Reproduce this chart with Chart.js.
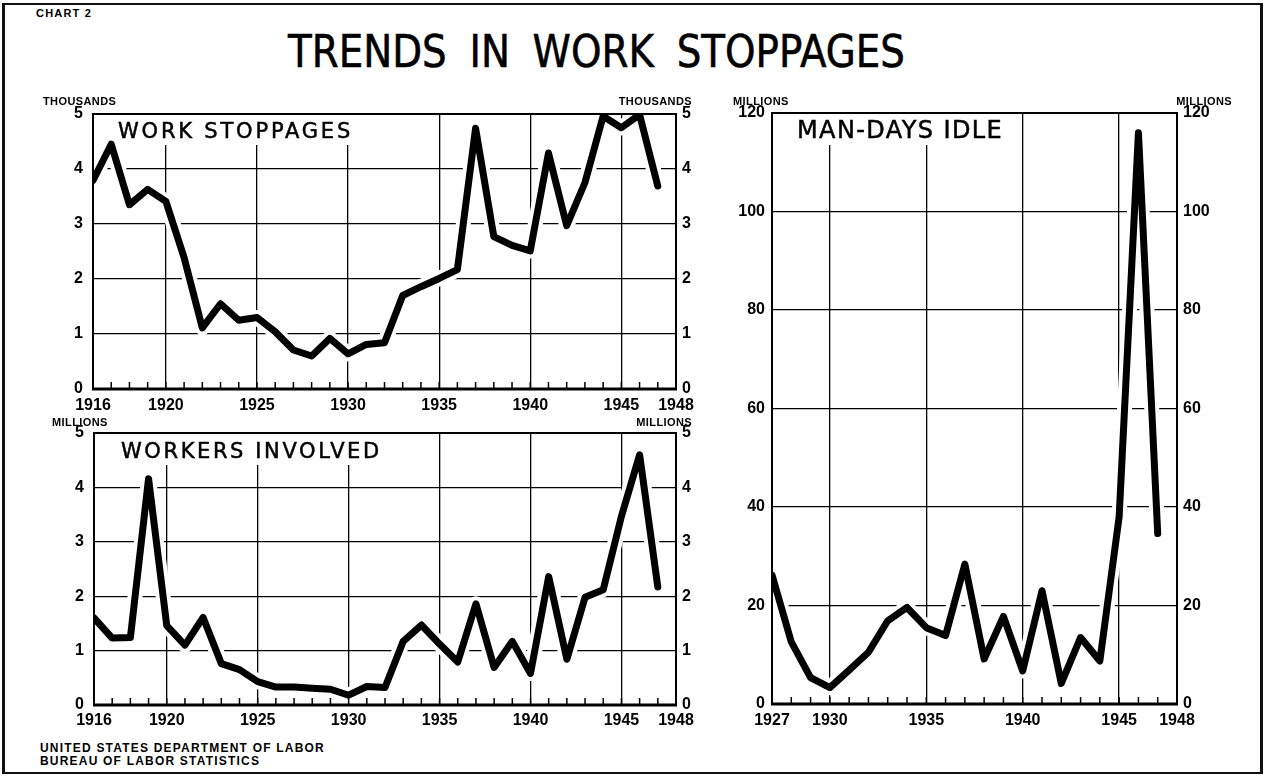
<!DOCTYPE html>
<html>
<head>
<meta charset="utf-8">
<script src="https://cdn.jsdelivr.net/npm/chart.js@4.4.0/dist/chart.umd.min.js"></script>
<style>
  html, body { margin: 0; padding: 0; background: #fff; }
  #page { position: relative; width: 1266px; height: 776px; overflow: hidden; font-family: "Liberation Sans", Arial, sans-serif; color: #000; }
  #frame { position: absolute; left: 2px; top: 3px; width: 1255px; height: 767px; border: 2px solid #111; border-left-width: 3px; border-right-width: 3px; }
  canvas { position: absolute; }
  #c-stop { left: 0; top: 90px; }
  #c-work { left: 0; top: 410px; }
  #c-idle { left: 720px; top: 90px; }
  #chart-no { position: absolute; left: 36px; top: 7px; font-size: 11px; font-weight: bold; letter-spacing: 1.2px; }
  #title { position: absolute; left: 288px; top: 29px; font-size: 45px; line-height: 45px; white-space: pre; word-spacing: 12px; transform-origin: 0 0; font-family: "DejaVu Sans", sans-serif; -webkit-text-stroke: 0.6px #000; }
  #source { position: absolute; left: 40px; top: 742px; font-size: 12px; line-height: 13px; font-weight: bold; letter-spacing: 1.2px; }
</style>
</head>
<body>
<div id="page">
  <div id="frame"></div>
  <div id="chart-no">CHART 2</div>
  <div id="title">TRENDS IN WORK STOPPAGES</div>
  <canvas id="c-stop" width="720" height="325"></canvas>
  <canvas id="c-work" width="720" height="320"></canvas>
  <canvas id="c-idle" width="546" height="640"></canvas>
  <div id="source">UNITED STATES DEPARTMENT OF LABOR<br>BUREAU OF LABOR STATISTICS</div>
</div>
<script>
'use strict';

/* ── Data ── */
const years = [1916, 1917, 1918, 1919, 1920, 1921, 1922, 1923, 1924, 1925, 1926,
               1927, 1928, 1929, 1930, 1931, 1932, 1933, 1934, 1935, 1936, 1937,
               1938, 1939, 1940, 1941, 1942, 1943, 1944, 1945, 1946, 1947];

// thousands
const stoppages = [3.79, 4.45, 3.35, 3.63, 3.41, 2.39, 1.11, 1.55, 1.25, 1.30, 1.04,
                   0.71, 0.60, 0.92, 0.64, 0.81, 0.84, 1.70, 1.86, 2.01, 2.17, 4.74,
                   2.77, 2.61, 2.51, 4.29, 2.97, 3.75, 4.96, 4.75, 4.99, 3.69];

// millions
const workers = [1.60, 1.23, 1.24, 4.16, 1.46, 1.10, 1.61, 0.76, 0.65, 0.43, 0.33,
                 0.33, 0.31, 0.29, 0.18, 0.34, 0.32, 1.17, 1.47, 1.12, 0.79, 1.86,
                 0.69, 1.17, 0.58, 2.36, 0.84, 1.98, 2.12, 3.47, 4.60, 2.17];

const idleYears = [1927, 1928, 1929, 1930, 1931, 1932, 1933, 1934, 1935, 1936, 1937,
                   1938, 1939, 1940, 1941, 1942, 1943, 1944, 1945, 1946, 1947];

// millions
const manDaysIdle = [26.2, 12.6, 5.35, 3.32, 6.89, 10.5, 16.9, 19.6, 15.5, 13.9, 28.4,
                     9.15, 17.8, 6.70, 23.0, 4.18, 13.5, 8.72, 38.0, 116.0, 34.6];

const longTicks  = [1916, 1920, 1925, 1930, 1935, 1940, 1945, 1948];
const shortTicks = [1927, 1930, 1935, 1940, 1945, 1948];

/* ── Title squeeze ── */
(function fitTitle() {
  const t = document.getElementById('title');
  const w = t.getBoundingClientRect().width;
  t.style.transform = 'scaleX(' + (617 / w) + ')';
})();

const TICK_FONT = { family: '"Liberation Sans", Arial, sans-serif', size: 16, weight: 'bold' };
const LABEL_FAMILY = '"DejaVu Sans", "Liberation Sans", sans-serif';

/* ── Panel decorations: label box, frame, year ticks, unit captions ── */
const panelDecor = {
  id: 'panelDecor',
  beforeDatasetsDraw(chart, args, o) {
    const { ctx, chartArea: a } = chart;
    ctx.save();
    ctx.font = o.labelSize + 'px ' + LABEL_FAMILY;
    ctx.letterSpacing = o.labelSpacing + 'px';
    const w = ctx.measureText(o.label).width;
    ctx.fillStyle = '#fff';
    ctx.fillRect(a.left + o.labelX - 7, a.top + 1, w + 14, o.labelBase + 6);
    ctx.fillStyle = '#000';
    ctx.strokeStyle = '#000';
    ctx.lineWidth = 0.5;
    ctx.textBaseline = 'alphabetic';
    ctx.fillText(o.label, a.left + o.labelX, a.top + o.labelBase);
    ctx.strokeText(o.label, a.left + o.labelX, a.top + o.labelBase);
    ctx.restore();
  },
  afterDatasetDraw(chart, args) {
    if (args.index !== 1) return;   // after the white halo, before the black line
    const { ctx, chartArea: a } = chart;
    const xs = chart.scales.x;
    ctx.save();
    ctx.strokeStyle = '#000';
    ctx.lineWidth = 2;
    ctx.strokeRect(a.left, a.top, a.right - a.left, a.bottom - a.top);
    ctx.lineWidth = 3;
    ctx.beginPath();
    ctx.moveTo(a.left - 1, a.bottom);
    ctx.lineTo(a.right + 1, a.bottom);
    ctx.stroke();
    ctx.lineWidth = 1.5;
    ctx.beginPath();
    for (let y = xs.min + 1; y < xs.max; y++) {
      const px = xs.getPixelForValue(y);
      ctx.moveTo(px, a.bottom);
      ctx.lineTo(px, a.bottom - 7);
    }
    ctx.stroke();
    ctx.restore();
  },
  afterDraw(chart, args, o) {
    const { ctx, chartArea: a } = chart;
    ctx.save();
    ctx.font = 'bold 11px "Liberation Sans", Arial, sans-serif';
    ctx.letterSpacing = '0.4px';
    ctx.fillStyle = '#000';
    ctx.textBaseline = 'alphabetic';
    ctx.textAlign = 'left';
    ctx.fillText(o.unit, a.left + o.unitLeft, a.top + o.unitY);
    ctx.textAlign = 'right';
    ctx.fillText(o.unit, a.right + o.unitRight, a.top + o.unitY);
    ctx.restore();
  },
};

function makePanel(id, p) {
  const points = p.years.map((yr, i) => ({ x: yr, y: p.values[i] }));
  const yAxis = (pos, width, pad) => ({
    position: pos,
    min: 0,
    max: p.yMax,
    afterFit: s => { s.width = width; },
    ticks: { stepSize: p.yStep, font: TICK_FONT, color: '#000', padding: pad },
    grid: pos === 'left'
      ? { color: '#000', lineWidth: 1.3, drawTicks: false }
      : { display: false, drawTicks: false },
    border: { display: false },
  });

  return new Chart(document.getElementById(id), {
    type: 'line',
    data: {
      datasets: [
        { data: points, borderColor: '#000', borderWidth: 7, pointRadius: 0,
          borderJoinStyle: 'round', borderCapStyle: 'round', tension: 0, order: 1 },
        { data: points, borderColor: '#fff', borderWidth: 15, pointRadius: 0,
          borderJoinStyle: 'round', borderCapStyle: 'round', tension: 0, order: 2 },
      ],
    },
    options: {
      responsive: false,
      animation: false,
      events: [],
      layout: { padding: { top: p.top, left: 0, right: 0, bottom: 0 } },
      plugins: {
        legend: { display: false },
        tooltip: { enabled: false },
        panelDecor: p.decor,
      },
      scales: {
        x: {
          type: 'linear',
          min: p.xMin,
          max: p.xMax,
          afterBuildTicks: s => { s.ticks = p.xTicks.map(v => ({ value: v })); },
          afterFit: s => { s.height = p.xHeight; },
          ticks: { font: TICK_FONT, color: '#000', padding: p.xPad, autoSkip: false, maxRotation: 0,
                   callback: v => String(v) },
          grid: { color: '#000', lineWidth: 1.3, drawTicks: false },
          border: { display: false },
        },
        y: yAxis('left', p.leftW, p.leftPad),
        y2: yAxis('right', p.rightW, p.rightPad),
      },
    },
    plugins: [panelDecor],
  });
}

makePanel('c-stop', {
  years, values: stoppages, xMin: 1916, xMax: 1948, xTicks: longTicks,
  yMax: 5, yStep: 1, top: 24, xHeight: 26, xPad: 7, leftW: 93, rightW: 44, leftPad: 10, rightPad: 6,
  decor: { label: 'WORK STOPPAGES', labelSize: 21, labelSpacing: 2.8, labelX: 25, labelBase: 24,
           unit: 'THOUSANDS', unitLeft: -50, unitRight: 16, unitY: -9 },
});

makePanel('c-work', {
  years, values: workers, xMin: 1916, xMax: 1948, xTicks: longTicks,
  yMax: 5, yStep: 1, top: 23, xHeight: 25, xPad: 6, leftW: 94, rightW: 44, leftPad: 10, rightPad: 6,
  decor: { label: 'WORKERS INVOLVED', labelSize: 21, labelSpacing: 2.6, labelX: 27, labelBase: 25,
           unit: 'MILLIONS', unitLeft: -42, unitRight: 16, unitY: -7 },
});

makePanel('c-idle', {
  years: idleYears, values: manDaysIdle, xMin: 1927, xMax: 1948, xTicks: shortTicks,
  yMax: 120, yStep: 20, top: 23, xHeight: 26, xPad: 7, leftW: 52, rightW: 89, leftPad: 7, rightPad: 6,
  decor: { label: 'MAN-DAYS IDLE', labelSize: 24, labelSpacing: 1.4, labelX: 25, labelBase: 25,
           unit: 'MILLIONS', unitLeft: -39, unitRight: 55, unitY: -8 },
});
</script>
</body>
</html>
